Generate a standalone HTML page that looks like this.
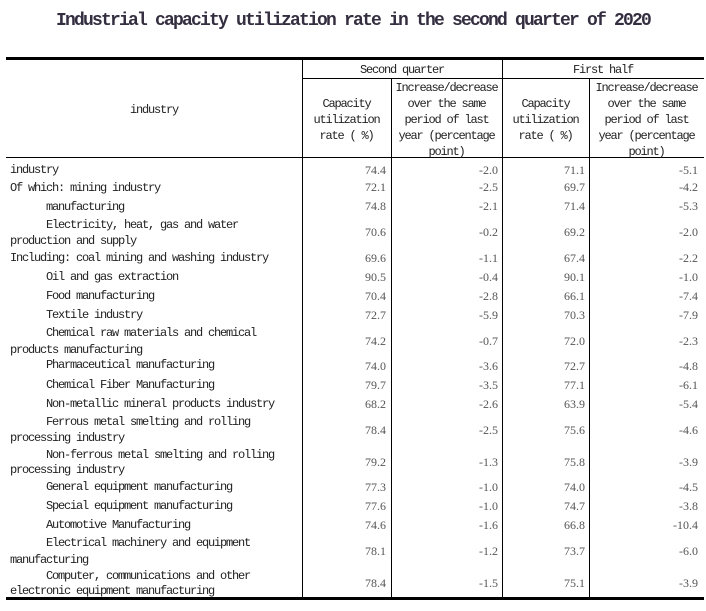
<!DOCTYPE html>
<html>
<head>
<meta charset="utf-8">
<style>
html,body{margin:0;padding:0;background:#fff;}
body{width:706px;height:611px;position:relative;overflow:hidden;}
.t{position:absolute;margin-top:1px;font-family:"Liberation Mono","Noto Sans CJK SC",monospace;font-size:12px;letter-spacing:-1.2px;line-height:16px;color:#222;white-space:pre;}
.c{text-align:center;}
.n{position:absolute;margin-top:1px;font-family:"Liberation Serif",serif;font-size:12px;line-height:16px;color:#555;text-align:right;white-space:pre;}
.h{position:absolute;background:#000;}
.title{position:absolute;left:0;width:706px;top:10px;text-align:center;font-family:"Liberation Mono","Noto Sans CJK SC",monospace;font-weight:bold;font-size:18px;letter-spacing:-1.8px;line-height:22px;color:#352e40;white-space:pre;}
</style>
</head>
<body>
<div class="title">Industrial capacity utilization rate in the second quarter of 2020</div>

<!-- lines -->
<div class="h" style="left:6px;top:57px;width:698px;height:3px;"></div>
<div class="h" style="left:302px;top:78px;width:402px;height:1px;"></div>
<div class="h" style="left:6px;top:157px;width:698px;height:1px;"></div>
<div class="h" style="left:6px;top:597px;width:698px;height:3px;"></div>
<div class="h" style="left:302px;top:60px;width:1px;height:537px;"></div>
<div class="h" style="left:391px;top:78px;width:1px;height:519px;"></div>
<div class="h" style="left:502px;top:60px;width:1px;height:537px;"></div>
<div class="h" style="left:589px;top:78px;width:1px;height:519px;"></div>

<!-- header -->
<div class="t c" style="left:6px;width:296px;top:101px;">industry</div>
<div class="t c" style="left:302px;width:200px;top:61px;">Second quarter</div>
<div class="t c" style="left:502px;width:202px;top:61px;">First half</div>

<div class="t c" style="left:302px;width:89px;top:95px;">Capacity</div>
<div class="t c" style="left:302px;width:89px;top:111px;">utilization</div>
<div class="t c" style="left:302px;width:89px;top:127px;">rate ( %)</div>

<div class="t c" style="left:391px;width:111px;top:79px;">Increase/decrease</div>
<div class="t c" style="left:391px;width:111px;top:95px;">over the same</div>
<div class="t c" style="left:391px;width:111px;top:111px;">period of last</div>
<div class="t c" style="left:391px;width:111px;top:127px;">year (percentage</div>
<div class="t c" style="left:391px;width:111px;top:143px;">point)</div>

<div class="t c" style="left:502px;width:87px;top:95px;">Capacity</div>
<div class="t c" style="left:502px;width:87px;top:111px;">utilization</div>
<div class="t c" style="left:502px;width:87px;top:127px;">rate ( %)</div>

<div class="t c" style="left:589px;width:115px;top:79px;">Increase/decrease</div>
<div class="t c" style="left:589px;width:115px;top:95px;">over the same</div>
<div class="t c" style="left:589px;width:115px;top:111px;">period of last</div>
<div class="t c" style="left:589px;width:115px;top:127px;">year (percentage</div>
<div class="t c" style="left:589px;width:115px;top:143px;">point)</div>

<!-- labels -->
<div class="t" style="left:10px;top:161px;">industry</div>
<div class="t" style="left:10px;top:179px;">Of which: mining industry</div>
<div class="t" style="left:46px;top:198px;">manufacturing</div>
<div class="t" style="left:46px;top:216px;">Electricity, heat, gas and water</div>
<div class="t" style="left:10px;top:232px;">production and supply</div>
<div class="t" style="left:10px;top:249px;">Including: coal mining and washing industry</div>
<div class="t" style="left:46px;top:268px;">Oil and gas extraction</div>
<div class="t" style="left:46px;top:287px;">Food manufacturing</div>
<div class="t" style="left:46px;top:306px;">Textile industry</div>
<div class="t" style="left:46px;top:324px;">Chemical raw materials and chemical</div>
<div class="t" style="left:10px;top:341px;">products manufacturing</div>
<div class="t" style="left:46px;top:356px;">Pharmaceutical manufacturing</div>
<div class="t" style="left:46px;top:376px;">Chemical Fiber Manufacturing</div>
<div class="t" style="left:46px;top:395px;">Non-metallic mineral products industry</div>
<div class="t" style="left:46px;top:413px;">Ferrous metal smelting and rolling</div>
<div class="t" style="left:10px;top:429px;">processing industry</div>
<div class="t" style="left:46px;top:446px;">Non-ferrous metal smelting and rolling</div>
<div class="t" style="left:10px;top:461px;">processing industry</div>
<div class="t" style="left:46px;top:478px;">General equipment manufacturing</div>
<div class="t" style="left:46px;top:497px;">Special equipment manufacturing</div>
<div class="t" style="left:46px;top:516px;">Automotive Manufacturing</div>
<div class="t" style="left:46px;top:534px;">Electrical machinery and equipment</div>
<div class="t" style="left:10px;top:551px;">manufacturing</div>
<div class="t" style="left:46px;top:567px;">Computer, communications and other</div>
<div class="t" style="left:10px;top:582px;">electronic equipment manufacturing</div>

<!-- numbers -->
<div class="n" style="left:306px;width:80px;top:161px;">74.4</div><div class="n" style="left:395px;width:103px;top:161px;">-2.0</div><div class="n" style="left:506px;width:79px;top:161px;">71.1</div><div class="n" style="left:593px;width:105px;top:161px;">-5.1</div>
<div class="n" style="left:306px;width:80px;top:178px;">72.1</div><div class="n" style="left:395px;width:103px;top:178px;">-2.5</div><div class="n" style="left:506px;width:79px;top:178px;">69.7</div><div class="n" style="left:593px;width:105px;top:178px;">-4.2</div>
<div class="n" style="left:306px;width:80px;top:197px;">74.8</div><div class="n" style="left:395px;width:103px;top:197px;">-2.1</div><div class="n" style="left:506px;width:79px;top:197px;">71.4</div><div class="n" style="left:593px;width:105px;top:197px;">-5.3</div>
<div class="n" style="left:306px;width:80px;top:223px;">70.6</div><div class="n" style="left:395px;width:103px;top:223px;">-0.2</div><div class="n" style="left:506px;width:79px;top:223px;">69.2</div><div class="n" style="left:593px;width:105px;top:223px;">-2.0</div>
<div class="n" style="left:306px;width:80px;top:249px;">69.6</div><div class="n" style="left:395px;width:103px;top:249px;">-1.1</div><div class="n" style="left:506px;width:79px;top:249px;">67.4</div><div class="n" style="left:593px;width:105px;top:249px;">-2.2</div>
<div class="n" style="left:306px;width:80px;top:268px;">90.5</div><div class="n" style="left:395px;width:103px;top:268px;">-0.4</div><div class="n" style="left:506px;width:79px;top:268px;">90.1</div><div class="n" style="left:593px;width:105px;top:268px;">-1.0</div>
<div class="n" style="left:306px;width:80px;top:287px;">70.4</div><div class="n" style="left:395px;width:103px;top:287px;">-2.8</div><div class="n" style="left:506px;width:79px;top:287px;">66.1</div><div class="n" style="left:593px;width:105px;top:287px;">-7.4</div>
<div class="n" style="left:306px;width:80px;top:306px;">72.7</div><div class="n" style="left:395px;width:103px;top:306px;">-5.9</div><div class="n" style="left:506px;width:79px;top:306px;">70.3</div><div class="n" style="left:593px;width:105px;top:306px;">-7.9</div>
<div class="n" style="left:306px;width:80px;top:332px;">74.2</div><div class="n" style="left:395px;width:103px;top:332px;">-0.7</div><div class="n" style="left:506px;width:79px;top:332px;">72.0</div><div class="n" style="left:593px;width:105px;top:332px;">-2.3</div>
<div class="n" style="left:306px;width:80px;top:357px;">74.0</div><div class="n" style="left:395px;width:103px;top:357px;">-3.6</div><div class="n" style="left:506px;width:79px;top:357px;">72.7</div><div class="n" style="left:593px;width:105px;top:357px;">-4.8</div>
<div class="n" style="left:306px;width:80px;top:376px;">79.7</div><div class="n" style="left:395px;width:103px;top:376px;">-3.5</div><div class="n" style="left:506px;width:79px;top:376px;">77.1</div><div class="n" style="left:593px;width:105px;top:376px;">-6.1</div>
<div class="n" style="left:306px;width:80px;top:395px;">68.2</div><div class="n" style="left:395px;width:103px;top:395px;">-2.6</div><div class="n" style="left:506px;width:79px;top:395px;">63.9</div><div class="n" style="left:593px;width:105px;top:395px;">-5.4</div>
<div class="n" style="left:306px;width:80px;top:421px;">78.4</div><div class="n" style="left:395px;width:103px;top:421px;">-2.5</div><div class="n" style="left:506px;width:79px;top:421px;">75.6</div><div class="n" style="left:593px;width:105px;top:421px;">-4.6</div>
<div class="n" style="left:306px;width:80px;top:453px;">79.2</div><div class="n" style="left:395px;width:103px;top:453px;">-1.3</div><div class="n" style="left:506px;width:79px;top:453px;">75.8</div><div class="n" style="left:593px;width:105px;top:453px;">-3.9</div>
<div class="n" style="left:306px;width:80px;top:478px;">77.3</div><div class="n" style="left:395px;width:103px;top:478px;">-1.0</div><div class="n" style="left:506px;width:79px;top:478px;">74.0</div><div class="n" style="left:593px;width:105px;top:478px;">-4.5</div>
<div class="n" style="left:306px;width:80px;top:497px;">77.6</div><div class="n" style="left:395px;width:103px;top:497px;">-1.0</div><div class="n" style="left:506px;width:79px;top:497px;">74.7</div><div class="n" style="left:593px;width:105px;top:497px;">-3.8</div>
<div class="n" style="left:306px;width:80px;top:516px;">74.6</div><div class="n" style="left:395px;width:103px;top:516px;">-1.6</div><div class="n" style="left:506px;width:79px;top:516px;">66.8</div><div class="n" style="left:593px;width:105px;top:516px;">-10.4</div>
<div class="n" style="left:306px;width:80px;top:542px;">78.1</div><div class="n" style="left:395px;width:103px;top:542px;">-1.2</div><div class="n" style="left:506px;width:79px;top:542px;">73.7</div><div class="n" style="left:593px;width:105px;top:542px;">-6.0</div>
<div class="n" style="left:306px;width:80px;top:574px;">78.4</div><div class="n" style="left:395px;width:103px;top:574px;">-1.5</div><div class="n" style="left:506px;width:79px;top:574px;">75.1</div><div class="n" style="left:593px;width:105px;top:574px;">-3.9</div>
</body>
</html>
